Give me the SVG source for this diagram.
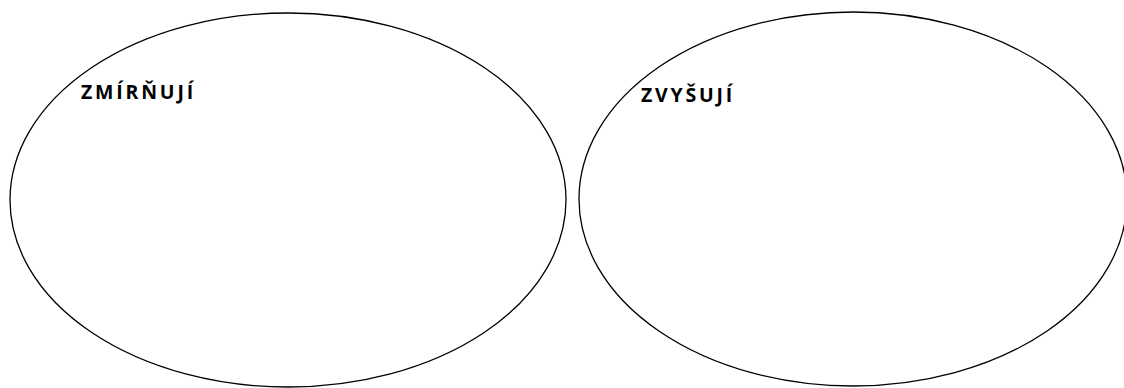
<svg xmlns="http://www.w3.org/2000/svg" width="1124" height="388" viewBox="0 0 1124 388">
<style>
.shape{fill:#fff;stroke:#000;stroke-width:1.3}
.lbl{font-family:"Open Sans","Liberation Sans",sans-serif;font-weight:bold;font-size:19.5px;letter-spacing:2.8px;fill:#000}
</style>
<rect width="1124" height="388" fill="#fff"/>
<g id="node-zmirnuji">
<ellipse class="shape" cx="288" cy="200" rx="278" ry="187"/>
<text class="lbl" x="81" y="99">ZMÍRŇUJÍ</text>
</g>
<g id="node-zvysuji">
<ellipse class="shape" cx="853" cy="199" rx="274" ry="187"/>
<text class="lbl" x="641" y="102">ZVYŠUJÍ</text>
</g>
<g id="connectors"></g>
</svg>
